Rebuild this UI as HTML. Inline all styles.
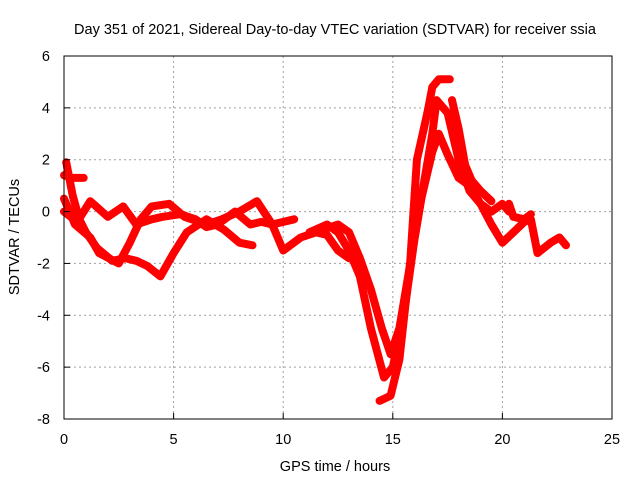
<!DOCTYPE html>
<html><head><meta charset="utf-8"><style>
body{margin:0;background:#fff;}
svg{display:block;font-family:"Liberation Sans",sans-serif;}
</style></head><body>
<svg id="chart" width="640" height="480">
<text x="335" y="34" text-anchor="middle" font-size="14.5">Day 351 of 2021, Sidereal Day-to-day VTEC variation (SDTVAR) for receiver ssia</text>
<text x="335" y="471" text-anchor="middle" font-size="14.5">GPS time / hours</text>
<text transform="translate(19,237) rotate(-90)" text-anchor="middle" font-size="14.5">SDTVAR / TECUs</text>
<g id="grid"></g>
<g id="series"></g>
<rect x="64" y="56" width="548" height="363" fill="none" stroke="#000" stroke-width="1"/>
<g id="ticks"></g>
</svg>
<script>
const xTicks=[0,5,10,15,20,25];
const yTicks=[-8,-6,-4,-2,0,2,4,6];
const seriesA=[[0.1,1.9],[0.4,0.6],[0.7,-0.3],[1,-0.8],[1.5,-1.4],[2.2,-1.9],[2.8,-1.8],[3.3,-1.9],[3.8,-2.1],[4.4,-2.5],[5,-1.6],[5.6,-0.8],[6.5,-0.3],[7.3,-0.7],[8,-1.2],[8.6,-1.3]];
const seriesB=[[0,0.5],[0.5,-0.5],[1.2,-1],[1.6,-1.6],[2.5,-2],[3,-1.2],[3.5,-0.3],[4,0.2],[4.8,0.3],[5.5,-0.2],[6.5,-0.5],[7.2,-0.3],[8,0],[8.8,0.4],[9.5,-0.5],[10,-1.5],[10.8,-1],[11.5,-0.8],[12,-0.9],[12.5,-1.5],[13,-1.8]];
const seriesC=[[0,0],[0.6,-0.4],[1.2,0.4],[2,-0.2],[2.7,0.2],[3.3,-0.5],[4,-0.3],[4.5,-0.2],[5.3,-0.1],[6,-0.3],[6.5,-0.6],[7,-0.5],[7.8,0],[8.5,-0.5],[9,-0.4],[9.5,-0.5],[10.5,-0.3]];
const seriesD=[[0,1.4],[0.4,1.3],[0.9,1.3]];
const seriesE=[[11.2,-0.8],[12,-0.5],[12.5,-0.8],[13,-1.5],[13.5,-2.5],[14,-4.5],[14.6,-6.4],[15,-6],[15.5,-4],[16,-1],[16.4,1],[16.8,3],[17,4.3],[17.5,3.8],[18,2],[18.5,0.8],[19,0.3],[19.5,-0.5],[20,-1.2],[20.5,-0.8],[21,-0.4],[21.3,-0.3],[21.6,-1.6],[22.2,-1.2],[22.6,-1.0],[22.9,-1.3]];
const seriesF=[[11.8,-0.7],[12.5,-0.5],[13,-0.8],[13.5,-1.8],[14,-3],[14.5,-4.5],[14.9,-5.5],[15.3,-4.5],[15.8,-2],[16.3,0.5],[16.8,2.3],[17.1,3.0],[17.5,2.2],[18,1.3],[18.5,1.0],[19,0.3],[19.5,0],[20,0.3],[20.3,0]];
const seriesG=[[14.4,-7.3],[14.9,-7.1],[15.3,-5.7],[15.8,-1.9],[16.1,2],[16.6,3.9],[16.8,4.8],[17.1,5.1],[17.6,5.1]];
const seriesH=[[17.7,4.3],[18,3.2],[18.3,1.8],[18.6,1.2],[19,0.8],[19.5,0.4]];
const seriesI=[[20.3,0.3],[20.5,-0.2],[21,-0.3],[21.3,-0.1]];
const allSeries=[seriesA,seriesB,seriesC,seriesD,seriesE,seriesF,seriesG,seriesH,seriesI];
const X0=64,X1=612,Y0=419,Y1=56;
function xs(v){return X0+(v-0)/(25-0)*(X1-X0);}
function ys(v){return Y0-(v+8)/(14)*(Y0-Y1);}
const NS="http://www.w3.org/2000/svg";
const grid=document.getElementById('grid'),ticks=document.getElementById('ticks'),sg=document.getElementById('series');
xTicks.forEach(t=>{
  const x=xs(t);
  if(t>0&&t<25){const l=document.createElementNS(NS,'line');l.setAttribute('x1',x);l.setAttribute('x2',x);l.setAttribute('y1',Y1);l.setAttribute('y2',Y0);l.setAttribute('stroke','#a0a0a0');l.setAttribute('stroke-dasharray','2,3');
  
  
  grid.appendChild(l);}
  const tk=document.createElementNS(NS,'line');tk.setAttribute('x1',x);tk.setAttribute('x2',x);tk.setAttribute('y1',Y0);tk.setAttribute('y2',Y0-6);tk.setAttribute('stroke','#000');
  
  
  ticks.appendChild(tk);
  const tx=document.createElementNS(NS,'text');tx.setAttribute('x',x);tx.setAttribute('y',Y0+25);tx.setAttribute('text-anchor','middle');tx.setAttribute('font-size','14.5');tx.textContent=t;
  
  
  ticks.appendChild(tx);
});
yTicks.forEach(t=>{
  const y=ys(t);
  if(t>-8&&t<6){const l=document.createElementNS(NS,'line');l.setAttribute('x1',X0);l.setAttribute('x2',X1);l.setAttribute('y1',y);l.setAttribute('y2',y);l.setAttribute('stroke','#a0a0a0');l.setAttribute('stroke-dasharray','2,3');
  
  
  grid.appendChild(l);}
  const tk=document.createElementNS(NS,'line');tk.setAttribute('x1',X0);tk.setAttribute('x2',X0+6);tk.setAttribute('y1',y);tk.setAttribute('y2',y);tk.setAttribute('stroke','#000');
  
  
  ticks.appendChild(tk);
  const tx=document.createElementNS(NS,'text');tx.setAttribute('x',X0-14);tx.setAttribute('y',y+5);tx.setAttribute('text-anchor','end');tx.setAttribute('font-size','14.5');tx.textContent=t;
  
  
  ticks.appendChild(tx);
});
allSeries.forEach((s,i)=>{
  const p=document.createElementNS(NS,'polyline');
  p.setAttribute('points',s.map(d=>xs(d[0]).toFixed(1)+','+ys(d[1]).toFixed(1)).join(' '));
  p.setAttribute('fill','none');p.setAttribute('stroke','#ff0000');p.setAttribute('stroke-width','8');
  p.setAttribute('stroke-linejoin','round');p.setAttribute('stroke-linecap','round');
  
  
  sg.appendChild(p);
});
</script>
</body></html>
